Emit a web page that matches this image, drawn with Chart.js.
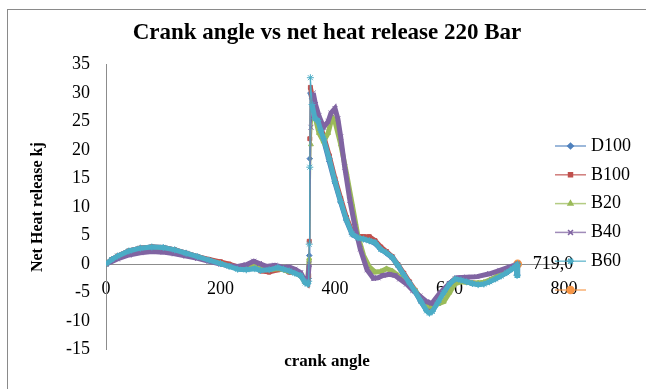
<!DOCTYPE html>
<html>
<head>
<meta charset="utf-8">
<script src="https://cdn.jsdelivr.net/npm/chart.js"></script>
<style>
  html, body { margin: 0; padding: 0; background: #fff; overflow: hidden; }
  #wrap { position: relative; width: 646px; height: 389px; }
  #heatChart { display: block; }
  /* chart frame, cut off on the right and bottom edges */
  #frame { position: absolute; left: 7px; top: 9px; width: 700px; height: 450px;
           border: 1px solid #8a8a8a; pointer-events: none; }
</style>
</head>
<body>
<div id="wrap">
  <canvas id="heatChart" width="646" height="389"></canvas>
  <div id="frame"></div>
</div>
<script>
// series info
const seriesNames  = ['D100', 'B100', 'B20', 'B40', 'B60'];
const seriesColors = ['#4F81BD', '#C0504D', '#9BBB59', '#8064A2', '#4BACC6'];
const markerStyles = ['rectRot', 'rect', 'triangle', 'crossRot', 'star'];

// axis ranges
const angleMin = 0, angleMax = 800, angleStep = 200;
const heatMin = -15, heatMax = 35, heatStep = 5;

// crank angles shared by D100, B100, B60
const anglesMain = [0,10,20,40,60,80,100,120,140,160,180,200,215,230,245,260,270,285,300,310,
  320,330,340,348,352,354,355,356,357,360,365,370,375,380,390,400,410,420,430,440,
  450,460,470,480,490,500,510,520,530,540,550,560,565,570,580,590,600,610,620,630,
  640,650,660,670,680,690,700,710,716,718,719];

const heatD100 = [0,0.8,1.4,2.3,2.8,3.0,2.9,2.5,1.9,1.3,0.7,0.2,-0.3,-0.8,-0.9,-0.7,-1.0,-1.1,-0.7,-0.9,
  -1.3,-1.5,-2.1,-3.2,-3.4,-2.5,1.5,18.5,30,29,26,25,23.2,21.8,18,14.2,10.8,7.6,5.2,4.6,
  4.4,4.1,3.6,2.6,1.9,1.1,-0.3,-1.9,-3.4,-4.9,-6.6,-8.1,-8.5,-8.2,-6.6,-4.9,-3.4,-2.6,-2.8,-3.1,
  -3.4,-3.5,-3.4,-3.0,-2.6,-2.0,-1.5,-0.8,-0.3,-1.8,0];

const heatB100 = [0,0.8,1.4,2.3,2.8,3.0,2.9,2.5,1.9,1.3,0.8,0.4,0.0,-0.5,-0.7,-0.5,-1.2,-1.4,-1.0,-0.9,
  -1.4,-1.4,-1.9,-3.0,-3.4,-2.0,4,22,31,29.5,27,25.5,24,22.5,19,15,11.5,8.2,5.6,4.9,
  4.8,4.8,4.1,3.0,2.2,1.3,-0.1,-1.6,-3.1,-4.6,-6.3,-7.9,-8.2,-8.0,-6.5,-4.9,-3.4,-2.6,-2.8,-3.1,
  -3.3,-3.4,-3.3,-3.0,-2.5,-2.0,-1.4,-0.7,-0.3,-0.1,0];

const heatB60 = [0,0.8,1.4,2.3,2.8,3.0,2.9,2.5,1.9,1.3,0.7,0.1,-0.4,-0.9,-1.0,-0.8,-1.1,-1.0,-0.6,-0.9,
  -1.2,-1.6,-2.0,-3.3,-3.5,-3.0,3.5,17,32.7,28,25.5,25.2,23.5,22,18.5,14.5,11,7.8,5.3,4.6,
  4.4,4.1,3.8,2.6,2.0,1.2,-0.2,-1.8,-3.3,-4.8,-6.5,-8.2,-8.6,-8.3,-6.7,-5.0,-3.5,-2.6,-2.8,-3.1,
  -3.4,-3.6,-3.5,-3.1,-2.6,-2.1,-1.5,-0.8,-0.3,-2.0,0];

const anglesB20 = [0,20,40,60,80,100,120,140,160,180,200,215,230,245,260,270,285,300,310,320,
  330,340,348,352,355,358,362,366,372,380,388,395,400,410,420,430,440,450,460,470,
  480,490,500,510,520,530,540,550,560,565,570,580,590,600,610,620,630,640,650,660,
  670,680,690,700,710,719];
const heatB20 = [0,1.3,2.2,2.7,2.9,2.8,2.4,1.8,1.2,0.6,0.1,-0.3,-0.6,-0.6,-0.2,-0.8,-1.0,-0.8,-1.0,-1.3,
  -1.5,-2.0,-3.2,-3.4,1,21,27.5,25.5,23,21.5,23,25.8,25,21,16,10.5,5,1.5,-0.5,-1.4,
  -1.3,-0.8,-1.2,-2.0,-2.8,-3.5,-4.6,-6.0,-7.2,-7.4,-7.3,-7.0,-6.6,-5.0,-3.4,-3.1,-3.2,-3.3,-3.3,-3.2,
  -2.8,-2.3,-1.8,-1.3,-0.6,0];

const anglesB40 = [0,20,40,60,80,100,120,140,160,180,200,215,230,245,258,268,280,295,310,320,
  330,340,348,352,355,358,362,366,372,380,388,393,400,405,410,417,426,435,444,456,
  467,475,484,495,505,513,525,536,548,560,569,583,600,613,630,648,670,688,705,719];
const heatB40 = [0,0.9,1.6,2.0,2.2,2.1,1.8,1.4,1.0,0.5,0.0,-0.3,-0.4,-0.1,0.5,0.1,-0.4,-0.2,-0.6,-0.5,
  -0.9,-1.5,-3.0,-3.3,0,24,30,28,26,24,25,26.5,27.3,25.5,22.3,17,11.2,6.5,2.7,-1.0,
  -2.5,-2.4,-2.0,-1.8,-2.0,-2.6,-3.5,-4.6,-5.6,-6.6,-6.9,-5.1,-3.4,-2.4,-2.3,-2.2,-1.7,-1.1,-0.5,0];

// end point carrying the value label
const endAngle = [719];
const endHeat = [0];

const serifFont = "'Liberation Serif', 'Times New Roman', serif";

function toPoints(xs, ys) {
  return xs.map((x, i) => ({ x: x, y: ys[i] }));
}

// thin line where the curve jumps almost vertically
function segWidth(ctx) {
  const dx = Math.abs(ctx.p1.x - ctx.p0.x);
  const dy = Math.abs(ctx.p1.y - ctx.p0.y);
  return dy > 3 * dx + 20 ? 1.2 : 5;
}

const seriesAngles = [anglesMain, anglesMain, anglesB20, anglesB40, anglesMain];
const seriesHeat = [heatD100, heatB100, heatB20, heatB40, heatB60];

const datasets = seriesNames.map((name, i) => ({
  label: name,
  data: toPoints(seriesAngles[i], seriesHeat[i]),
  borderColor: seriesColors[i],
  backgroundColor: seriesColors[i],
  pointStyle: markerStyles[i],
  pointRadius: markerStyles[i] === 'crossRot' || markerStyles[i] === 'star' ? 3.5 : 2.8,
  pointBorderWidth: 1,
  borderWidth: 5,
  segment: { borderWidth: segWidth },
  order: seriesNames.length - i,
  showLine: true
}));

datasets.push({
  label: '',
  data: toPoints(endAngle, endHeat),
  borderColor: '#F79646',
  backgroundColor: '#F79646',
  pointStyle: 'circle',
  pointRadius: 3.5,
  borderWidth: 2,
  order: 10,
  showLine: true
});

// legend drawn at the right, line with marker like the office style
const sideLegend = {
  id: 'sideLegend',
  afterDraw(chart) {
    const ctx = chart.ctx;
    const rowY0 = 146, rowGap = 28.8, lineX0 = 555, lineX1 = 586, textX = 591;
    chart.data.datasets.forEach((ds, i) => {
      const y = rowY0 + i * rowGap;
      ctx.save();
      ctx.strokeStyle = ds.borderColor;
      ctx.globalAlpha = 0.75;
      ctx.lineWidth = 1.5;
      ctx.beginPath();
      ctx.moveTo(lineX0, y);
      ctx.lineTo(lineX1, y);
      ctx.stroke();
      ctx.globalAlpha = 1;
      ctx.fillStyle = ds.backgroundColor;
      Chart.helpers.drawPoint(ctx, {
        pointStyle: ds.pointStyle, radius: ds.pointRadius, borderWidth: 1, rotation: 0
      }, (lineX0 + lineX1) / 2, y);
      ctx.fillStyle = '#000';
      ctx.font = '18px ' + serifFont;
      ctx.textBaseline = 'middle';
      ctx.fillText(ds.label, textX, y);
      ctx.restore();
    });
  }
};

// "x,y" label to the right of the end point
const endLabel = {
  id: 'endLabel',
  afterDatasetsDraw(chart) {
    const idx = chart.data.datasets.length - 1;
    const meta = chart.getDatasetMeta(idx);
    const ctx = chart.ctx;
    ctx.save();
    ctx.fillStyle = '#000';
    ctx.font = '18px ' + serifFont;
    ctx.textBaseline = 'middle';
    meta.data.forEach((pt, i) => {
      const d = chart.data.datasets[idx].data[i];
      ctx.fillText(d.x + ',' + d.y, pt.x + 15, pt.y);
    });
    ctx.restore();
  }
};

new Chart(document.getElementById('heatChart'), {
  type: 'scatter',
  data: { datasets: datasets },
  options: {
    responsive: false,
    animation: false,
    layout: { padding: { left: 8, right: 0, top: 0, bottom: 0 } },
    plugins: {
      legend: { display: false },
      tooltip: { enabled: false },
      title: {
        display: true,
        text: 'Crank angle vs net heat release 220 Bar',
        color: '#000',
        font: { family: serifFont, size: 23, weight: 'bold' },
        padding: { top: 19, bottom: 18 }
      },
      subtitle: {
        display: true,
        position: 'bottom',
        text: 'crank angle',
        color: '#000',
        font: { family: serifFont, size: 17, weight: 'bold' },
        padding: { top: 2, bottom: 17 }
      }
    },
    scales: {
      x: {
        type: 'linear',
        position: { y: 0 },
        min: angleMin,
        max: angleMax,
        ticks: { stepSize: angleStep, color: '#000', padding: 14, maxRotation: 0,
                 font: { family: serifFont, size: 18 } },
        grid: { display: false, drawTicks: false },
        border: { display: true, color: '#8c8c8c', width: 1 }
      },
      y: {
        type: 'linear',
        position: 'left',
        min: heatMin,
        max: heatMax,
        ticks: { stepSize: heatStep, color: '#000', padding: 16,
                 font: { family: serifFont, size: 18 } },
        grid: { display: false, drawTicks: false },
        border: { display: true, color: '#8c8c8c', width: 1 },
        title: {
          display: true,
          text: 'Net Heat release kj',
          color: '#000',
          font: { family: serifFont, size: 16, weight: 'bold' },
          padding: { top: 20.4, bottom: 0 }
        },
        afterFit(scale) { scale.width = 98; }
      },
      // empty right-hand strip that holds the legend
      legendSpace: {
        type: 'linear',
        axis: 'y',
        position: 'right',
        min: heatMin,
        max: heatMax,
        ticks: { display: false },
        grid: { display: false, drawTicks: false },
        border: { display: false },
        afterFit(scale) { scale.width = 82; }
      }
    }
  },
  plugins: [sideLegend, endLabel]
});
</script>
</body>
</html>
